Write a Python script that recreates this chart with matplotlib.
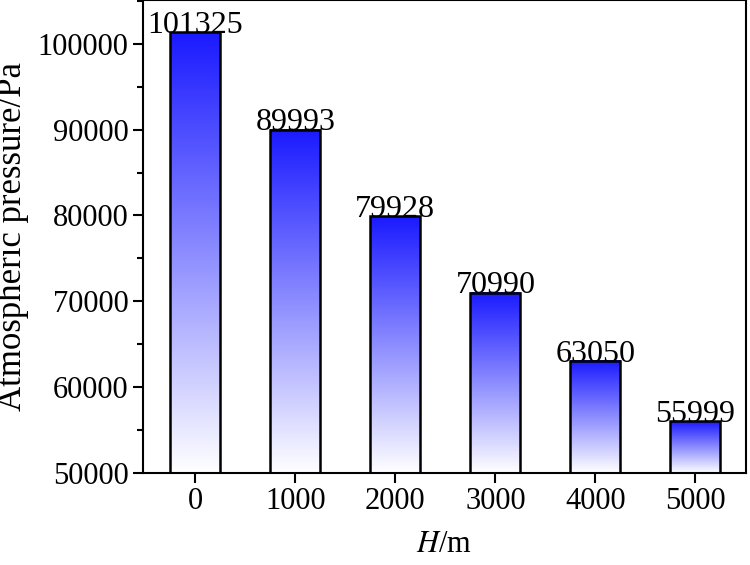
import matplotlib
matplotlib.use("Agg")
import matplotlib.pyplot as plt
import numpy as np
from matplotlib.colors import LinearSegmentedColormap

heights = ["0", "1000", "2000", "3000", "4000", "5000"]
pressures = [101325, 89993, 79928, 70990, 63050, 55999]

plt.rcParams['font.family'] = ['Liberation Serif', 'DejaVu Serif']
plt.rcParams['mathtext.fontset'] = 'stix'
fig = plt.figure(figsize=(7.5, 5.65), dpi=100)
ax = fig.add_axes([0.191, 0.163, 0.803, 0.837])
ymin, ymax = 50000, 105100
cmap = LinearSegmentedColormap.from_list("bw", ["#ffffff", "#1a1aff"])
x = np.arange(len(heights))
bars = ax.bar(x, [p - ymin for p in pressures], bottom=ymin, width=0.5,
              facecolor='none', edgecolor='black', linewidth=1.8, zorder=3)
grad = np.linspace(0, 1, 256).reshape(-1, 1)
for b, p in zip(bars, pressures):
    ax.imshow(grad, cmap=cmap, aspect='auto', origin='lower',
              extent=[b.get_x(), b.get_x() + b.get_width(), ymin, p], zorder=2)
    ax.text(b.get_x() + b.get_width() / 2, p - 900, str(p), ha='center', va='bottom',
            fontsize=23, zorder=4)
ax.set_xlim(-0.52, 5.5)
ax.set_ylim(ymin, ymax)
ax.set_xticks(x)
ax.set_xticklabels(heights)
ax.set_yticks(range(50000, 100001, 10000))
ax.set_yticks(range(55000, 105001, 10000), minor=True)
ax.tick_params(axis='both', labelsize=22, direction='out', length=7, width=1.5)
ax.tick_params(axis='y', which='minor', length=4, width=1.5)
for s in ax.spines.values():
    s.set_linewidth(1.5)
ax.set_xlabel(r'$\it{H}$/m', fontsize=22, labelpad=10)
ax.set_ylabel('Atmospheric pressure/Pa', fontsize=25, labelpad=6)
fig.savefig("out.png", dpi=100)
